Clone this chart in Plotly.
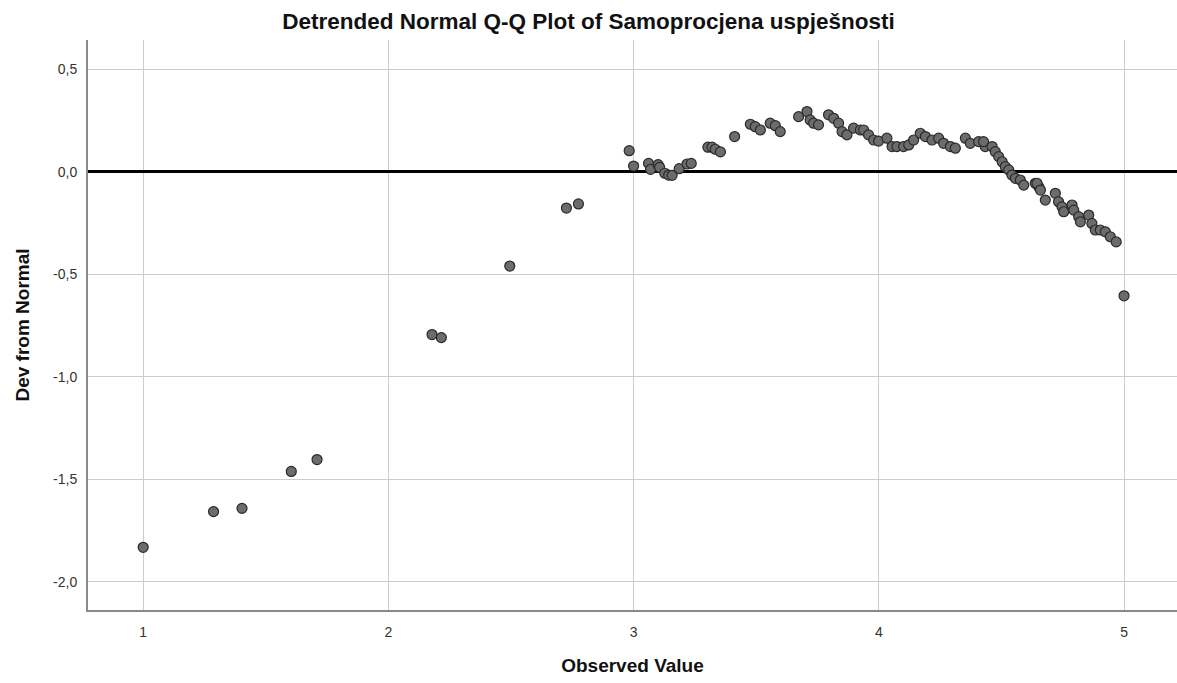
import plotly.graph_objects as go

observed = [1.0, 1.287, 1.403, 1.604, 1.709, 2.178, 2.216, 2.495, 2.726, 2.775,
            2.982, 3.0, 3.061, 3.069, 3.10, 3.106, 3.127, 3.143, 3.157, 3.186,
            3.218, 3.235, 3.303, 3.32, 3.333, 3.354, 3.412,
            3.476, 3.496, 3.517, 3.557, 3.578, 3.598, 3.673, 3.707, 3.72, 3.734,
            3.754, 3.795, 3.816, 3.836, 3.85, 3.87, 3.897, 3.925,
            3.938, 3.958, 3.979, 3.999, 4.033, 4.054, 4.074, 4.101, 4.122, 4.142,
            4.169, 4.19, 4.217, 4.244, 4.264, 4.292, 4.312, 4.353, 4.373, 4.407,
            4.434, 4.427, 4.462, 4.475, 4.489, 4.503, 4.516, 4.53, 4.543, 4.557,
            4.577, 4.591, 4.638, 4.652, 4.645, 4.659, 4.679, 4.72, 4.733, 4.747,
            4.754, 4.788, 4.795, 4.815, 4.822, 4.856, 4.869, 4.883, 4.903, 4.924,
            4.944, 4.968, 5.0]
deviation = [-1.832, -1.658, -1.642, -1.462, -1.404, -0.794, -0.809, -0.460, -0.177, -0.157,
             0.103, 0.028, 0.041, 0.012, 0.035, 0.022, -0.007, -0.016, -0.017, 0.015,
             0.038, 0.041, 0.12, 0.12, 0.11, 0.097, 0.172,
             0.232, 0.22, 0.204, 0.237, 0.225, 0.196, 0.269, 0.294, 0.253, 0.237,
             0.229, 0.278, 0.261, 0.237, 0.196, 0.18, 0.213, 0.204,
             0.204, 0.18, 0.155, 0.15, 0.164, 0.123, 0.123, 0.123, 0.131, 0.155,
             0.188, 0.172, 0.155, 0.164, 0.139, 0.123, 0.115, 0.164, 0.139, 0.147,
             0.123, 0.147, 0.123, 0.098, 0.074, 0.049, 0.025, 0.009, -0.016, -0.032,
             -0.04, -0.065, -0.056, -0.073, -0.056, -0.089, -0.138, -0.105, -0.146, -0.171,
             -0.195, -0.162, -0.187, -0.219, -0.244, -0.211, -0.252, -0.284, -0.284, -0.293,
             -0.317, -0.342, -0.605]

x_ticks = [1, 2, 3, 4, 5]
y_ticks = [-2.0, -1.5, -1.0, -0.5, 0.0, 0.5]
y_labels = ["-2,0", "-1,5", "-1,0", "-0,5", "0,0", "0,5"]

FONT = "Liberation Sans, Arial, sans-serif"

fig = go.Figure()
fig.add_trace(go.Scatter(
    x=observed, y=deviation, mode="markers",
    marker=dict(size=10, color="#6c6c6c", line=dict(color="#2a2a2a", width=1.2)),
    showlegend=False, hoverinfo="x+y"))

fig.update_layout(
    width=1177, height=683,
    margin=dict(l=88, r=0, t=40, b=73),
    paper_bgcolor="white", plot_bgcolor="white",
    font=dict(family=FONT, color="#222"),
    title=dict(text="<b>Detrended Normal Q-Q Plot of Samoprocjena uspješnosti</b>",
               x=0.5, xanchor="center", y=1 - 21 / 683, yanchor="middle",
               font=dict(size=22.5, color="#111", family=FONT)),
    xaxis=dict(range=[0.775, 5.216], tickvals=x_ticks, ticktext=[str(v) for v in x_ticks],
               showgrid=True, gridcolor="#cccccc", gridwidth=1,
               showline=True, linecolor="#8a8a8a", linewidth=2,
               zeroline=False, ticks="", ticklabelstandoff=8,
               tickfont=dict(size=14, color="#333"),
               title=dict(text="<b>Observed Value</b>", font=dict(size=19, color="#111"), standoff=20)),
    yaxis=dict(range=[-2.138, 0.643], tickvals=y_ticks, ticktext=y_labels,
               showgrid=True, gridcolor="#cccccc", gridwidth=1,
               showline=True, linecolor="#8a8a8a", linewidth=2,
               zeroline=True, zerolinecolor="#000000", zerolinewidth=3,
               ticks="", ticklabelstandoff=6,
               tickfont=dict(size=14, color="#333"),
               title=dict(text="<b>Dev from Normal</b>", font=dict(size=19, color="#111"), standoff=18)),
)

fig.write_html("out.html")
